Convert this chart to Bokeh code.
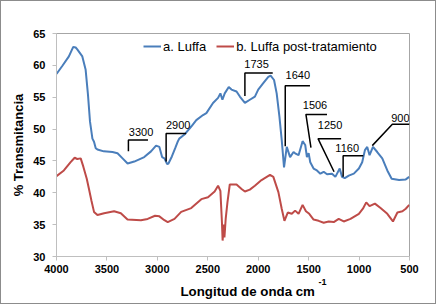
from bokeh.plotting import figure
from bokeh.models import Range1d, FixedTicker, Title, ColumnDataSource
from bokeh.core.properties import value
from bokeh.embed import file_html
from bokeh.resources import INLINE

# ---- data: FTIR spectra (wavenumber cm-1, % transmittance) ----
wn_a = [4000, 3993, 3943, 3877, 3834, 3810, 3794, 3744, 3711, 3688, 3668, 3644, 3628, 3611,
        3594, 3531, 3445, 3395, 3345, 3295, 3229, 3130, 3063, 3013, 2980, 2953, 2930, 2903,
        2890, 2856, 2823, 2796, 2783, 2734, 2664, 2614, 2547, 2514, 2448, 2398, 2375, 2355,
        2332, 2292, 2265, 2215, 2182, 2132, 2083, 2033, 2000, 1950, 1900, 1877, 1843, 1817,
        1790, 1767, 1744, 1717, 1684, 1650, 1634, 1600, 1560, 1534, 1517, 1500, 1484, 1451,
        1418, 1384, 1351, 1318, 1268, 1235, 1192, 1169, 1142, 1102, 1052, 1002, 969, 942,
        919, 896, 862, 820, 770, 720, 677, 603, 537, 503]
t_a = [58.7, 58.8, 59.9, 61.4, 62.9, 62.8, 62.5, 61.4, 59.3, 55.4, 51.2, 48.5, 48.0, 47.0,
       46.8, 46.5, 46.4, 46.2, 45.4, 44.6, 44.9, 45.6, 46.5, 47.4, 47.2, 45.6, 45.4, 44.5,
       44.6, 45.7, 47.0, 48.1, 48.5, 49.1, 50.4, 51.4, 52.2, 52.5, 54.1, 54.9, 55.6, 54.6,
       55.6, 56.6, 56.2, 55.9, 55.1, 54.1, 54.6, 55.1, 56.2, 57.2, 58.2, 58.4, 57.7, 55.6,
       52.0, 48.3, 44.0, 47.2, 45.6, 46.4, 46.2, 45.9, 48.1, 47.5, 45.6, 46.2, 44.8, 43.8,
       43.5, 43.0, 43.3, 42.9, 43.0, 42.5, 43.8, 42.5, 42.3, 42.7, 43.0, 43.8, 44.8, 46.7,
       47.2, 45.9, 47.2, 46.4, 45.4, 43.5, 42.2, 42.0, 42.1, 42.5]

wn_b = [4000, 3927, 3860, 3820, 3794, 3760, 3734, 3700, 3678, 3654, 3628, 3594, 3528, 3429,
        3362, 3296, 3163, 3096, 3023, 2980, 2930, 2897, 2830, 2764, 2664, 2564, 2498, 2432,
        2398, 2375, 2360, 2353, 2342, 2335, 2322, 2305, 2282, 2215, 2165, 2132, 2083, 2033,
        1967, 1883, 1850, 1800, 1767, 1740, 1707, 1667, 1634, 1600, 1560, 1527, 1494, 1451,
        1401, 1351, 1301, 1251, 1202, 1152, 1085, 1002, 962, 929, 896, 843, 787, 720, 664,
        620, 570, 537, 503]
t_b = [42.6, 43.5, 44.8, 45.5, 45.3, 45.4, 44.1, 42.2, 40.6, 38.8, 37.0, 36.5, 36.8, 37.1,
       36.8, 35.8, 35.7, 35.9, 36.4, 36.3, 35.7, 35.4, 35.9, 37.0, 37.6, 39.0, 39.3, 40.2,
       41.1, 40.3, 35.5, 32.5, 35.0, 33.0, 36.0, 38.5, 41.3, 41.3, 40.6, 40.2, 40.5, 41.1,
       42.0, 42.8, 42.5, 40.1, 37.5, 35.6, 36.9, 36.7, 37.2, 36.7, 38.1, 37.1, 36.7, 35.8,
       35.6, 35.3, 35.5, 35.4, 35.9, 35.5, 35.9, 36.7, 37.5, 38.5, 37.9, 38.3, 37.6, 36.7, 35.5,
       36.9, 37.1, 37.5, 38.1]

series_names = ["a. Luffa", "b. Luffa post-tratamiento"]
x_ticks = [500, 1000, 1500, 2000, 2500, 3000, 3500, 4000]
y_ticks = [30, 35, 40, 45, 50, 55, 60, 65]
x_title = "Longitud de onda cm"
x_title_sup = "-1"
y_title = "% Transmitancia"

# band annotations: label, label position, callout polyline (data coords)
ann_text = ["3300", "2900", "1735", "1640", "1506", "1250", "1160", "900"]
ann_x = [3162, 2794, 2016, 1607, 1437, 1288, 1118, 590]
ann_y = [49.6, 50.6, 60.25, 58.5, 53.8, 50.6, 47.1, 51.7]
ann_xs = [[3287, 3287, 3093], [2913, 2913, 2714], [2132, 2132, 1856], [1732, 1732, 1487],
          [1477, 1527, 1318], [1248, 1407, 1178], [1158, 1158, 958], [869, 670, 500]]
ann_ys = [[46.5, 48.3, 48.3], [44.9, 49.3, 49.3], [55.2, 58.8, 58.8], [47.3, 56.8, 56.8],
          [47.1, 52.3, 52.3], [43.3, 48.5, 48.5], [42.5, 45.8, 45.8], [47.4, 50.75, 50.75]]

FONT = "Liberation Sans"
BLUE = "#4a7ebb"
RED = "#be4b48"

p = figure(width=436, height=304, output_backend="svg", toolbar_location=None,
           x_range=Range1d(4000, 500), y_range=Range1d(30, 65),
           min_border_left=55, min_border_right=28, min_border_top=32, min_border_bottom=49)

p.line(wn_a, t_a, line_color=BLUE, line_width=2, legend_label=series_names[0])
p.line(wn_b, t_b, line_color=RED, line_width=2, legend_label=series_names[1])

p.multi_line(xs=ann_xs, ys=ann_ys, line_color="black", line_width=1.5)
src = ColumnDataSource(dict(x=ann_x, y=ann_y, t=ann_text))
p.text(x="x", y="y", text="t", source=src, text_align="center", text_baseline="middle",
       text_font=value(FONT), text_font_size="11px", text_color="#000000")

p.xgrid.visible = False
p.ygrid.visible = False
p.background_fill_color = "white"
p.border_fill_color = "white"
p.outline_line_color = "#a6a6a6"
p.outline_line_width = 1

p.xaxis.ticker = FixedTicker(ticks=x_ticks)
p.yaxis.ticker = FixedTicker(ticks=y_ticks)
for ax in (p.xaxis[0], p.yaxis[0]):
    ax.axis_line_color = "#bfbfbf"
    ax.major_tick_line_color = "#bfbfbf"
    ax.major_tick_in = 0
    ax.major_tick_out = 4
    ax.minor_tick_line_color = None
    ax.major_label_text_font = FONT
    ax.major_label_text_font_style = "bold"
    ax.major_label_text_font_size = "11px"
    ax.major_label_text_color = "#000000"
    ax.axis_label_text_font = FONT
    ax.axis_label_text_font_style = "bold"
    ax.axis_label_text_font_size = "13px"
    ax.axis_label_text_color = "#000000"

p.yaxis.axis_label = y_title
p.xaxis.major_label_standoff = 4
p.yaxis.major_label_standoff = 7
p.yaxis.axis_label_standoff = 4

# x-axis title (with superscript) as two stacked titles below the axis
sup_title = Title(text=x_title_sup, align="left", offset=262, standoff=2,
                  text_font=FONT, text_font_style="bold", text_font_size="9px",
                  text_color="#000000")
main_title = Title(text=x_title, align="left", offset=124, standoff=-7,
                   text_font=FONT, text_font_style="bold", text_font_size="13.3px",
                   text_color="#000000")
p.add_layout(sup_title, "below")
p.add_layout(main_title, "below")

leg = p.legend[0]
leg.orientation = "horizontal"
leg.location = (87, 202)
leg.label_text_font = FONT
leg.label_text_font_size = "13px"
leg.label_text_color = "#000000"
leg.glyph_width = 18
leg.glyph_height = 16
leg.label_standoff = 2
leg.spacing = 10
leg.padding = 0
leg.margin = 0
leg.border_line_alpha = 0
leg.background_fill_alpha = 0

p.styles = {"border": "1px solid #8c8c8c"}

open("out.html", "w").write(file_html(p, INLINE))
